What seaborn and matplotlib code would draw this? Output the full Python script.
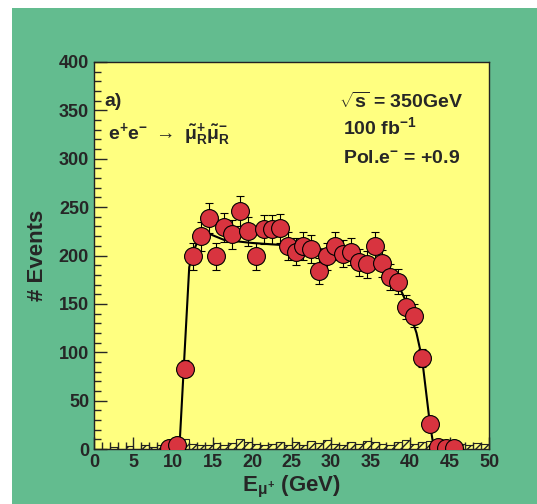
import numpy as np
import pandas as pd
import seaborn as sns
import matplotlib.pyplot as plt
from matplotlib.patches import Rectangle
from matplotlib.ticker import MultipleLocator

# smuon energy spectrum, 1 GeV bins
e_bin = [9.5, 10.5, 11.5, 12.5, 13.5, 14.5, 15.5, 16.5, 17.5, 18.5, 19.5, 20.5,
         21.5, 22.5, 23.5, 24.5, 25.5, 26.5, 27.5, 28.5, 29.5, 30.5, 31.5, 32.5,
         33.5, 34.5, 35.5, 36.5, 37.5, 38.5, 39.5, 40.5, 41.5, 42.5, 43.5, 44.5, 45.5]
events = [1, 4, 83, 199, 220, 239, 199, 229, 222, 246, 225, 199,
          227, 227, 228, 210, 204, 210, 207, 184, 199, 210, 202, 204,
          193, 191, 210, 192, 178, 173, 147, 138, 94, 26, 2, 1, 1]
errors = [1, 2, 9, 14, 15, 15.5, 14, 15, 15, 15.7, 15, 14,
          15, 15, 15, 14.5, 14.3, 14.5, 14.4, 13.6, 14, 14.5, 14.2, 14.3,
          13.9, 13.8, 14.5, 13.9, 13.3, 13.2, 12.1, 11.7, 9.7, 5.1, 1.4, 1, 1]

# fitted curve
fit_e = [10.8, 12.05, 12.6, 13.2, 14.0, 15.0, 16.5, 20.0, 23.5, 25.0, 30.0,
         35.0, 37.0, 38.5, 39.5, 40.8, 41.5, 42.5, 42.9, 43.2]
fit_n = [0, 188, 205, 216, 225, 221, 216, 213, 211, 211, 205,
         197, 188, 170, 152, 120, 94, 26, 6, 0]

# background histogram (0-50 GeV, 1 GeV bins)
bkg = [0, 0, 2, 0, 3, 0, 4, 2, 4, 5, 4, 10, 5, 4, 4, 6, 4, 6, 10, 7, 5, 4, 5, 7, 4,
       7, 4, 8, 6, 9, 5, 4, 7, 5, 8, 7, 5, 4, 7, 9, 5, 7, 8, 4, 6, 5, 5, 4, 6, 5]

sns.set_style('ticks')
plt.rcParams['font.family'] = ['Liberation Sans', 'DejaVu Sans']
plt.rcParams['font.weight'] = 'bold'
plt.rcParams['mathtext.fontset'] = 'custom'
plt.rcParams['mathtext.rm'] = 'Liberation Sans:bold'
plt.rcParams['mathtext.bf'] = 'Liberation Sans:bold'
plt.rcParams['mathtext.it'] = 'Liberation Sans:bold'

green = '#63bc8f'
yellow = '#ffff80'
red = '#d8343f'

fig = plt.figure(figsize=(5.37, 5.04), dpi=100)
fig.patch.set_facecolor('white')
fig.patches.append(Rectangle((12 / 537, 0), 1 - 12 / 537, 496 / 504,
                             transform=fig.transFigure, facecolor=green,
                             edgecolor='none', zorder=-1))
ax = fig.add_axes([0.175, 0.109, 0.736, 0.768])
ax.set_facecolor(yellow)

# background
edges = np.arange(0, 51, 1)
ax.stairs(bkg, edges, fill=False, edgecolor='#222222', lw=0.8, hatch='////', zorder=1)

df = pd.DataFrame({'E': e_bin, 'N': events, 'err': errors})
fit = pd.DataFrame({'E': fit_e, 'N': fit_n})

sns.lineplot(data=fit, x='E', y='N', ax=ax, color='black', lw=1.5, zorder=2)
ax.errorbar(df['E'], df['N'], yerr=df['err'], fmt='none', ecolor='black',
            elinewidth=0.8, capsize=3, capthick=0.8, zorder=3)
sns.scatterplot(data=df, x='E', y='N', ax=ax, s=165, color=red,
                edgecolor='black', linewidth=0.8, zorder=4)

ax.set_xlim(0, 50)
ax.set_ylim(0, 400)
ax.xaxis.set_major_locator(MultipleLocator(5))
ax.xaxis.set_minor_locator(MultipleLocator(1))
ax.yaxis.set_major_locator(MultipleLocator(50))
ax.yaxis.set_minor_locator(MultipleLocator(10))
ax.tick_params(which='both', direction='in', top=False, right=False,
               labelsize=13, width=1)
ax.tick_params(which='major', length=9)
ax.tick_params(which='minor', length=5)
for s in ax.spines.values():
    s.set_linewidth(1)
    s.set_color('#222222')

ax.set_xlabel(r'E$_{\mu^{+}}$ (GeV)', fontsize=16, fontweight='bold', labelpad=2)
ax.set_ylabel('# Events', fontsize=16, fontweight='bold', labelpad=8)

ax.text(1.3, 355, 'a)', fontsize=14, fontweight='bold')
ax.text(1.8, 320, r'e$^{+}$e$^{-}$ $\rightarrow$ $\tilde{\mu}^{+}_{R}\tilde{\mu}^{-}_{R}$',
        fontsize=14, fontweight='bold')
ax.text(31.0, 353, r'$\sqrt{s}$ = 350GeV', fontsize=14, fontweight='bold')
ax.text(31.5, 325, r'100 fb$^{-1}$', fontsize=14, fontweight='bold')
ax.text(31.5, 296, r'Pol.e$^{-}$ = +0.9', fontsize=14, fontweight='bold')

plt.savefig('out.png', dpi=100)
